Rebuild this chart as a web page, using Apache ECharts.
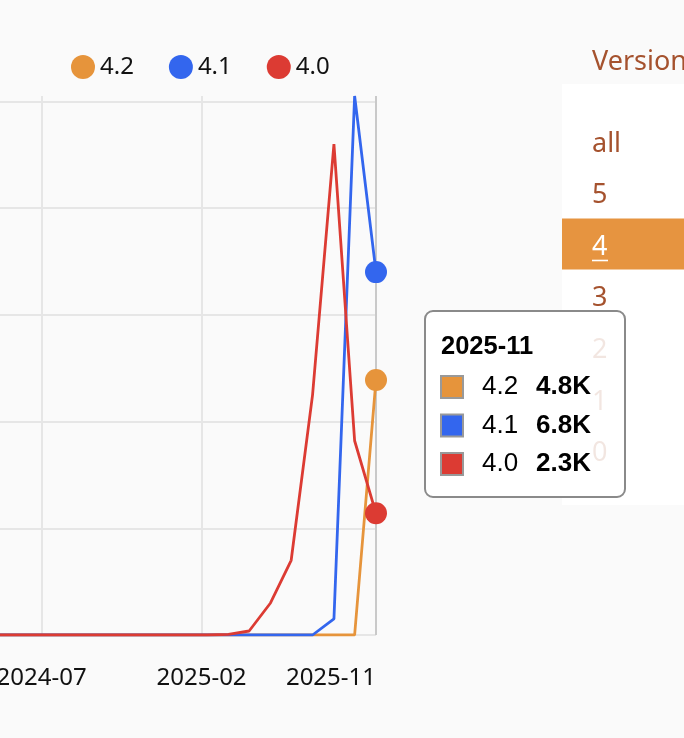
<!DOCTYPE html>
<html><head><meta charset="utf-8">
<script src="https://cdn.jsdelivr.net/npm/echarts@6/dist/echarts.min.js"></script>
<style>html,body{margin:0;padding:0;background:#fafafa;} #c{width:684px;height:738px;}</style>
</head><body><div id="c"></div>
<script>
// ---- data ----
const months = ['2024-01','2024-02','2024-03','2024-04','2024-05','2024-06','2024-07','2024-08','2024-09','2024-10','2024-11','2024-12',
  '2025-01','2025-02','2025-03','2025-04','2025-05','2025-06','2025-07','2025-08','2025-09','2025-10','2025-11'];
const seriesNames = ['4.2','4.1','4.0'];
const seriesColors = ['#e6943b','#3366ee','#dc3b33'];
const v42 = [0,0,0,0,0,0,0,0,0,0,0,0, 0,0,0,0,0,0,0,0,0,0,4780];
const v41 = [0,0,0,0,0,0,0,0,0,0,0,0, 0,0,0,0,0,0,0,0,300,10100,6800];
const v40 = [0,0,0,0,0,0,0,0,0,0,0,0, 0,0,0,10,75,600,1400,4500,9200,3640,2280];
const xTickDates = ['2024-07-04','2025-02-21','2025-11-01'];
const yTicks = [0,2000,4000,6000,8000,10000];
const versionTitle = 'Version';
const versionItems = ['all','5','4','3','2','1','0'];
const selectedVersion = '4';
const hoverMonth = '2025-11';

const allValues = [v42, v41, v40];
const chart = echarts.init(document.getElementById('c'));
const pad = n => (n < 10 ? '0' : '') + n;
const lastIdx = months.length - 1;
const fmtK = v => (v / 1000).toFixed(1) + 'K';
const ts = s => Date.parse(s + 'T00:00:00Z');

const series = seriesNames.map((name, si) => {
  const s = {
    name, type: 'line', color: seriesColors[si],
    data: months.map((m, i) => [ts(m + '-01'), allValues[si][i]]),
    symbol: 'circle', showSymbol: true, showAllSymbol: true,
    symbolSize: (val, p) => (p.dataIndex === lastIdx ? 22 : 0),
    lineStyle: { width: 2.8, color: seriesColors[si] },
    itemStyle: { color: seriesColors[si] },
    emphasis: { disabled: true }, silent: true, animation: false
  };
  if (si === 0) {
    s.markLine = {
      silent: true, symbol: ['none', 'none'], label: { show: false }, animation: false, z: 1,
      lineStyle: { color: '#c9c9c9', width: 2, type: 'solid' },
      data: [{ xAxis: ts(hoverMonth + '-01') }]
    };
  }
  return s;
});

// version panel + tooltip graphics
const FONT = '"Noto Sans", "Open Sans", sans-serif';
const TFONT = '"Liberation Sans", Arial, sans-serif';
const brown = '#a5522e';
const graphics = [];
graphics.push({ type: 'text', x: 592, y: 62, style: { text: versionTitle, font: '27px ' + FONT, fill: brown, verticalAlign: 'middle', align: 'left' } });
graphics.push({ type: 'rect', shape: { x: 562, y: 84, width: 130, height: 421 }, style: { fill: '#ffffff' } });
versionItems.forEach((t, k) => {
  const cy = 144 + k * 51.6;
  const sel = t === selectedVersion;
  if (sel) {
    graphics.push({ type: 'rect', shape: { x: 562, y: cy - 28.8, width: 130, height: 51 }, style: { fill: '#e69440' } });
    graphics.push({ type: 'rect', shape: { x: 592, y: cy + 12.5, width: 16, height: 1.6 }, style: { fill: '#ffffff' } });
  }
  graphics.push({ type: 'text', x: 592, y: cy, style: { text: t, font: '27px ' + FONT, fill: sel ? '#ffffff' : brown, verticalAlign: 'middle', align: 'left' } });
});
// tooltip
graphics.push({ type: 'rect', shape: { x: 425, y: 311, width: 200, height: 186, r: 8 }, style: { fill: 'rgba(255,255,255,0.86)', stroke: '#8a8a8a', lineWidth: 2 } });
graphics.push({ type: 'text', x: 441, y: 347, style: { text: hoverMonth, font: 'bold 25.5px ' + TFONT, fill: '#000', verticalAlign: 'middle', align: 'left' } });
seriesNames.forEach((name, si) => {
  const cy = 387 + si * 38.5;
  graphics.push({ type: 'rect', shape: { x: 441, y: cy - 11, width: 22, height: 22 }, style: { fill: seriesColors[si], stroke: '#999999', lineWidth: 2 } });
  graphics.push({ type: 'text', x: 482, y: cy, style: { text: name, font: '26px ' + TFONT, fill: '#000', verticalAlign: 'middle', align: 'left' } });
  graphics.push({ type: 'text', x: 536, y: cy, style: { text: fmtK(allValues[si][lastIdx]), font: 'bold 26px ' + TFONT, fill: '#000', verticalAlign: 'middle', align: 'left' } });
});

chart.setOption({
  backgroundColor: '#fafafa',
  animation: false,
  textStyle: { fontFamily: FONT },
  legend: {
    data: seriesNames, left: 66, top: 50, icon: 'circle', itemWidth: 24, itemHeight: 24, itemGap: 35,
    textStyle: { fontSize: 24, color: '#111', fontFamily: FONT }, selectedMode: false
  },
  grid: { left: -86, right: 308, top: 96, bottom: 103, containLabel: false, outerBoundsMode: 'none' },
  xAxis: {
    type: 'value', min: ts(months[0] + '-01'), max: ts(months[lastIdx] + '-01'),
    axisLine: { show: false },
    axisTick: { show: false, customValues: xTickDates.map(ts) },
    splitLine: { show: true, lineStyle: { color: '#e6e6e6', width: 2 } },
    axisLabel: {
      customValues: xTickDates.map(ts), fontSize: 24, color: '#111', fontFamily: FONT, margin: 31,
      alignMaxLabel: 'right', hideOverlap: false,
      formatter: v => { const d = new Date(v); return d.getUTCFullYear() + '-' + pad(d.getUTCMonth() + 1); }
    }
  },
  yAxis: {
    type: 'value', min: 0, max: 'dataMax',
    axisLine: { show: false }, axisTick: { show: false, customValues: yTicks },
    axisLabel: { show: false, customValues: yTicks },
    splitLine: { show: true, lineStyle: { color: '#e6e6e6', width: 2 } }
  },
  series,
  graphic: graphics
});
</script></body></html>
